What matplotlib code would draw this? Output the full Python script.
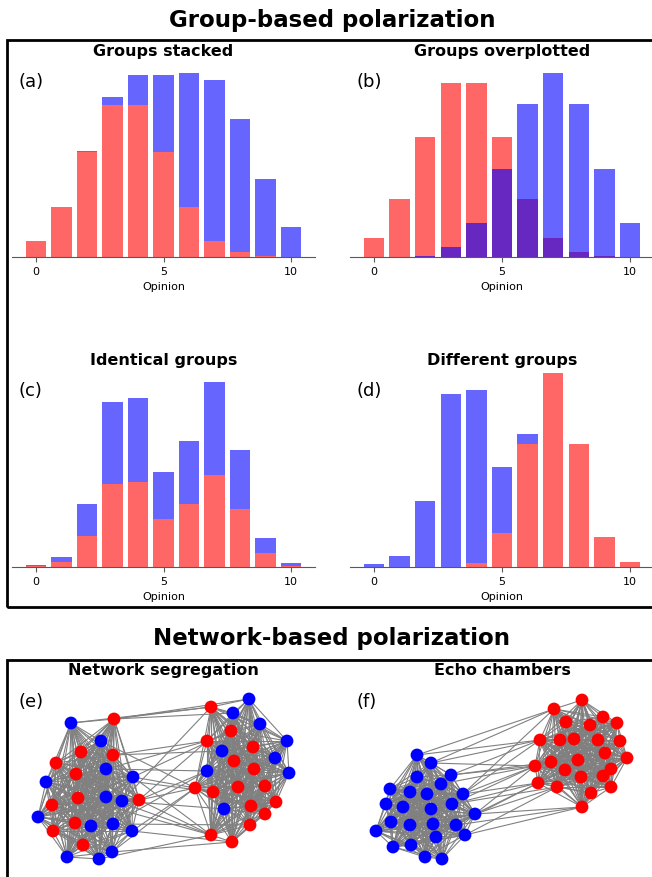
import itertools
import matplotlib
matplotlib.use("Agg")
import matplotlib.pyplot as plt
from matplotlib.patches import Rectangle
from matplotlib.collections import LineCollection
import numpy as np

# Opinion histograms (percent of each group per opinion bin)
opinions = np.arange(11)

# (a) / (b): polarized groups
red_ab = [2.5, 7.7, 16.1, 23.3, 23.3, 16.1, 7.7, 2.5, 0.7, 0.1, 0.0]
blue_ab = [0.0, 0.0, 0.2, 1.3, 4.6, 11.8, 20.5, 24.6, 20.5, 11.8, 4.6]

# (c): identical groups
red_c = [0.2, 1.0, 6.5, 17.2, 17.6, 9.9, 13.1, 19.2, 12.1, 3.0, 0.3]
blue_c = [0.2, 1.0, 6.6, 17.1, 17.6, 9.9, 13.0, 19.2, 12.2, 3.0, 0.5]

# (d): different groups
red_d = [0.0, 0.0, 0.0, 0.0, 0.8, 6.8, 24.5, 38.7, 24.5, 6.0, 0.9]
blue_d = [0.5, 2.1, 13.1, 34.5, 34.5, 13.1, 2.1, 0.0, 0.0, 0.0, 0.0]

# Network (e): node layout, colour and community
e_x = [71, 101, 106, 133, 46, 106, 122, 38, 91, 113, 132, 67, 99, 112,
       114, 81, 113, 56, 76, 78, 139, 52, 75, 53, 83,
       211, 231, 207, 253, 234, 254, 195, 213, 238, 265, 251, 276, 265, 250, 211, 232,
       249, 233, 260, 287, 222, 275, 207, 289, 224]
e_y = [723, 741, 769, 777, 782, 797, 801, 817, 826, 824, 831, 857, 859, 852,
       719, 752, 755, 763, 774, 798, 800, 805, 823, 831, 845,
       707, 731, 741, 747, 761, 769, 788, 792, 787, 786, 806, 802, 814, 825, 835, 842,
       699, 713, 724, 741, 751, 758, 771, 773, 809]
e_col = ['b'] * 14 + ['r'] * 11 + ['r'] * 16 + ['b'] * 9
e_group = [0] * 25 + [1] * 25
e_cross = [(14, 25), (14, 41), (0, 25), (16, 27), (3, 31), (3, 39), (20, 31), (20, 47),
           (20, 39), (10, 40), (13, 40), (12, 39), (6, 25), (9, 47), (2, 27), (1, 31),
           (16, 45), (5, 39), (10, 31), (18, 32), (14, 42), (3, 26), (19, 39), (13, 31),
           (9, 38), (2, 47), (20, 27), (6, 49)]

# Network (f)
f_x = [417, 431, 417, 451, 441, 390, 410, 427, 463, 386, 403, 431, 452, 475, 391,
       410, 433, 456, 376, 436, 465, 393, 411, 425, 442,
       582, 554, 603, 566, 590, 617, 540, 560, 574, 598, 620, 605, 627, 578, 551,
       535, 565, 611, 603, 581, 538, 557, 591, 611, 582]
f_y = [755, 763, 777, 775, 784, 789, 792, 794, 794, 804, 807, 809, 804, 814, 822,
       825, 824, 825, 831, 837, 835, 847, 845, 857, 859,
       700, 709, 717, 722, 725, 723, 740, 740, 739, 740, 741, 753, 758, 760, 762,
       766, 770, 769, 776, 777, 783, 787, 793, 787, 807]
f_col = ['b'] * 25 + ['r'] * 25
f_group = [0] * 25 + [1] * 25
f_cross = [(0, 26), (0, 31), (1, 26), (1, 31), (3, 31), (3, 40), (4, 40), (8, 40),
           (8, 45), (8, 31), (12, 45), (12, 40), (13, 40), (13, 45), (13, 46), (17, 45),
           (17, 49), (20, 49), (20, 46), (13, 49), (3, 39), (8, 26), (12, 46), (1, 40)]

W, H = 652, 877
fig = plt.figure(figsize=(W / 100, H / 100), dpi=100)


def px_axes(left, top, right, bottom):
    return fig.add_axes([left / W, 1 - bottom / H, (right - left) / W, (bottom - top) / H])


# Outer boxes
fig.add_artist(Rectangle((7 / W, 1 - 607 / H), 660 / W, 567 / H, transform=fig.transFigure,
                         fill=False, lw=2, ec='k'))
fig.add_artist(Rectangle((7 / W, 1 - 900 / H), 660 / W, 240 / H, transform=fig.transFigure,
                         fill=False, lw=2, ec='k'))
fig.text(332 / W, 1 - 20 / H, 'Group-based polarization', ha='center', va='center',
         fontsize=16.5, fontweight='bold')
fig.text(332 / W, 1 - 639 / H, 'Network-based polarization', ha='center', va='center',
         fontsize=16.5, fontweight='bold')


def hist_panel(ax, red, blue, title, label, stacked=True, tight_top=False):
    ax.bar(opinions, red, width=0.8, color='red', alpha=0.6)
    ax.bar(opinions, blue, width=0.8, bottom=red if stacked else None, color='blue', alpha=0.6)
    if tight_top:
        ax.set_ylim(0, max(np.add(red, blue)))
    for s in ['top', 'left', 'right']:
        ax.spines[s].set_visible(False)
    ax.spines['bottom'].set_color('0.35')
    ax.set_yticks([])
    ax.set_xticks([0, 5, 10])
    ax.tick_params(axis='x', labelsize=8, color='0.35')
    ax.set_xlabel('Opinion', fontsize=8)
    ax.set_title(title, fontsize=11.5, fontweight='bold')
    ax.text(0.02, 0.905, label, transform=ax.transAxes, fontsize=13, va='center')


ax_a = px_axes(12, 64, 315, 257)
hist_panel(ax_a, red_ab, blue_ab, 'Groups stacked', '(a)')
ax_b = px_axes(350, 64, 654, 257)
hist_panel(ax_b, red_ab, blue_ab, 'Groups overplotted', '(b)', stacked=False)
ax_c = px_axes(12, 373, 315, 567)
hist_panel(ax_c, red_c, blue_c, 'Identical groups', '(c)')
ax_d = px_axes(350, 373, 654, 567)
hist_panel(ax_d, red_d, blue_d, 'Different groups', '(d)', tight_top=True)


def net_panel(ax, xs, ys, cols, groups, cross, title, label, box):
    edges = [(i, j) for i, j in itertools.combinations(range(len(xs)), 2)
             if groups[i] == groups[j]] + cross
    segs = [[(xs[i], ys[i]), (xs[j], ys[j])] for i, j in edges]
    ax.add_collection(LineCollection(segs, colors='#808080', linewidths=0.8, zorder=1))
    ax.scatter(xs, ys, s=85, c=['red' if c == 'r' else 'blue' for c in cols], zorder=2,
               linewidths=0)
    ax.set_xlim(box[0], box[2])
    ax.set_ylim(box[3], box[1])
    ax.axis('off')
    ax.set_title(title, fontsize=11.5, fontweight='bold')
    ax.text(0.02, 0.90, label, transform=ax.transAxes, fontsize=13, va='center')


box_e = (12, 683, 315, 877)
ax_e = px_axes(*box_e)
net_panel(ax_e, e_x, e_y, e_col, e_group, e_cross, 'Network segregation', '(e)', box_e)
box_f = (350, 683, 654, 877)
ax_f = px_axes(*box_f)
net_panel(ax_f, f_x, f_y, f_col, f_group, f_cross, 'Echo chambers', '(f)', box_f)

fig.savefig('out.png', dpi=100)
